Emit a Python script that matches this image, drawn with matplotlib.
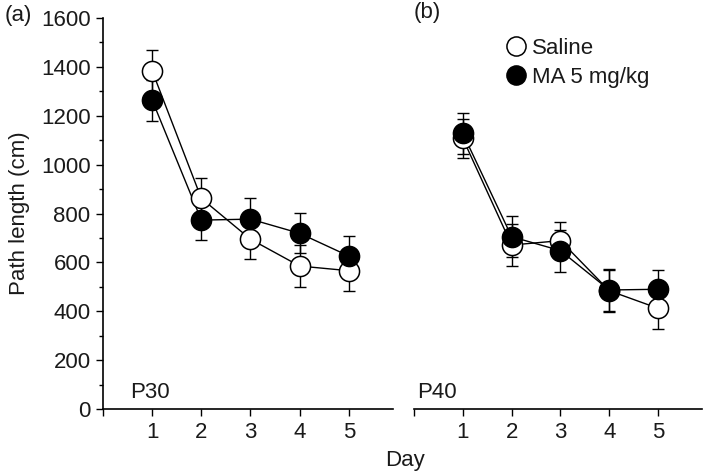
import matplotlib.pyplot as plt
from matplotlib.ticker import MultipleLocator

plt.rcParams['font.family'] = ['Liberation Sans', 'DejaVu Sans']

# ------------------------------
# Данные
# ------------------------------
days = [1, 2, 3, 4, 5]

# P30
p30_saline = [1384, 862, 695, 585, 566]
p30_saline_sem = [85, 82, 81, 85, 83]
p30_ma = [1264, 773, 777, 719, 626]
p30_ma_sem = [84, 82, 85, 82, 83]

# P40
p40_saline = [1107, 671, 689, 484, 412]
p40_saline_sem = [81, 86, 77, 86, 86]
p40_ma = [1128, 705, 648, 487, 490]
p40_ma_sem = [84, 85, 86, 85, 79]

FS = 16
TXT = '#1a1a1a'

fig = plt.figure(figsize=(7.06, 4.73), dpi=100)
ax1 = fig.add_axes([0.1459, 0.1353, 0.4108, 0.8266])
ax2 = fig.add_axes([0.5864, 0.1353, 0.4080, 0.8266])


def draw_panel(ax, sal, sal_err, ma, ma_err):
    err_kw = dict(ecolor='black', elinewidth=1.0, capsize=4.5, capthick=1.0)
    ax.errorbar(days, sal, yerr=sal_err, fmt='none', zorder=2, **err_kw)
    ax.errorbar(days, ma, yerr=ma_err, fmt='none', zorder=2, **err_kw)
    ax.plot(days, sal, '-', color='black', lw=1.0, zorder=3)
    ax.plot(days, ma, '-', color='black', lw=1.0, zorder=3)
    ax.plot(days, sal, 'o', ms=14.5, mfc='white', mec='black', mew=1.1,
            zorder=4, label='Saline')
    ax.plot(days, ma, 'o', ms=14.5, mfc='black', mec='black', mew=1.1,
            zorder=5, label='MA 5 mg/kg')
    ax.set_xlim(0, 5.9)
    ax.set_ylim(0, 1600)
    ax.set_xticks([0, 1, 2, 3, 4, 5])
    ax.set_xticklabels(['', '1', '2', '3', '4', '5'])
    for s in ['top', 'right']:
        ax.spines[s].set_visible(False)
    ax.spines['bottom'].set_linewidth(1.2)
    ax.spines['left'].set_linewidth(1.2)
    ax.tick_params(direction='out', length=5, width=1.0, labelsize=FS,
                   labelcolor=TXT, pad=4)


draw_panel(ax1, p30_saline, p30_saline_sem, p30_ma, p30_ma_sem)
draw_panel(ax2, p40_saline, p40_saline_sem, p40_ma, p40_ma_sem)

ax1.yaxis.set_major_locator(MultipleLocator(200))
ax1.yaxis.set_minor_locator(MultipleLocator(100))
ax1.tick_params(axis='y', which='minor', direction='out', length=3, width=1.0)
ax1.set_ylabel('Path length (cm)', fontsize=FS, color=TXT, labelpad=8)

ax2.spines['left'].set_visible(False)
ax2.tick_params(axis='y', left=False, labelleft=False)

ax1.text(0.093, 0.028, 'P30', transform=ax1.transAxes, fontsize=FS, color=TXT)
ax2.text(0.01, 0.028, 'P40', transform=ax2.transAxes, fontsize=FS, color=TXT)

fig.text(0.006, 0.99, '(a)', fontsize=FS, va='top', color=TXT)
fig.text(0.586, 0.995, '(b)', fontsize=FS, va='top', color=TXT)
fig.text(0.573, 0.014, 'Day', fontsize=FS, ha='center', color=TXT)

leg = ax2.legend(loc='upper left', bbox_to_anchor=(0.245, 1.0), frameon=False,
                 handlelength=1.0, handletextpad=0.25, labelspacing=0.35,
                 fontsize=FS, markerscale=0.95)
for t in leg.get_texts():
    t.set_color(TXT)

fig.savefig('out.png', dpi=100)
